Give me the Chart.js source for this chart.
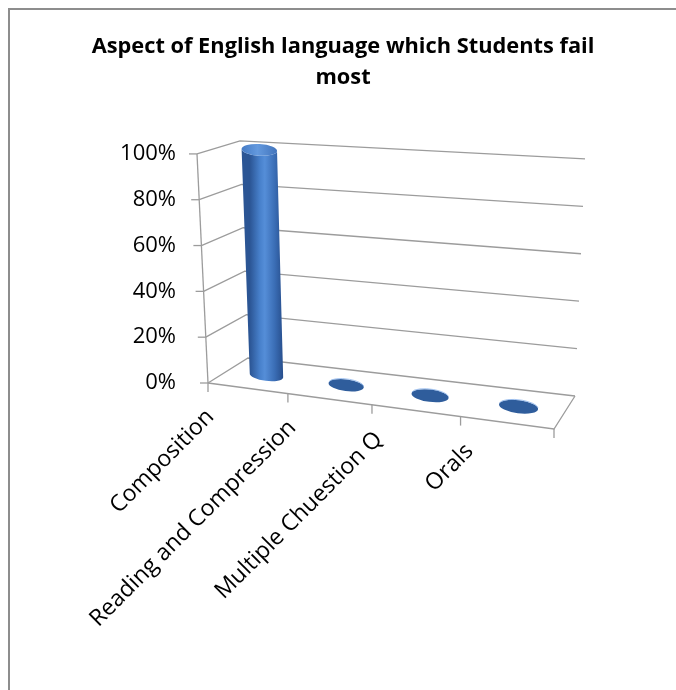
<!DOCTYPE html>
<html>
<head>
<meta charset="utf-8">
<script src="https://cdn.jsdelivr.net/npm/chart.js@4.4.1/dist/chart.umd.min.js"></script>
<style>
  html, body { margin: 0; padding: 0; background: #fff; overflow: hidden; width: 676px; height: 690px; }
  #chart { position: absolute; left: 0; top: 0; }
</style>
</head>
<body>
<canvas id="chart" width="676" height="690"></canvas>
<script>
// --- DATA ---
const categories = ["Composition", "Reading and Compression", "Multiple Chuestion Q", "Orals"];
const failShare = [100, 0, 0, 0];
const yTicks = [0, 20, 40, 60, 80, 100];
const titleLines = ["Aspect of English language which Students fail", "most"];

// --- 3D LOOK ---
// corner offsets of the box from the chart area (front = axis plane, back = wall)
const BOX = {
    f00: [11, 0],  f10: [0, 46],  f01: [0, 0],   f11: [12, 25],
    b00: [51, -25], b10: [21, 13], b01: [43, -13], b11: [31, 5]
};
const PERSPECTIVE = 1.11;
const GRID_COLOR = '#9c9c9c';
const LABEL_FONT = '23px "Open Sans"';

function lerp(a, b, t) {
    return [a[0] + (b[0] - a[0]) * t, a[1] + (b[1] - a[1]) * t];
}

function boxCorners(chart) {
    const a = chart.chartArea;
    const y = chart.scales.y;
    const top = y.getPixelForValue(y.max), bottom = y.getPixelForValue(y.min);
    const pt = (off, right, up) => [(right ? a.right : a.left) + off[0], (up ? top : bottom) + off[1]];
    return {
        top, bottom,
        f00: pt(BOX.f00, false, false), f10: pt(BOX.f10, true, false),
        f01: pt(BOX.f01, false, true),  f11: pt(BOX.f11, true, true),
        b00: pt(BOX.b00, false, false), b10: pt(BOX.b10, true, false),
        b01: pt(BOX.b01, false, true),  b11: pt(BOX.b11, true, true)
    };
}

// u: along categories, v: value fraction, w: depth (0 front, 1 back)
function project(c, u, v, w) {
    const k = u / (PERSPECTIVE + (1 - PERSPECTIVE) * u);
    const front = lerp(lerp(c.f00, c.f10, k), lerp(c.f01, c.f11, k), v);
    const back = lerp(lerp(c.b00, c.b10, k), lerp(c.b01, c.b11, k), v);
    return lerp(front, back, w);
}

function line(ctx, pts) {
    ctx.beginPath();
    ctx.moveTo(pts[0][0], pts[0][1]);
    for (let i = 1; i < pts.length; i++) ctx.lineTo(pts[i][0], pts[i][1]);
    ctx.stroke();
}

function ellipseAt(c, uc, half, v) {
    const a = project(c, uc - half, v, 0.5), b = project(c, uc + half, v, 0.5);
    const rx = Math.hypot(b[0] - a[0], b[1] - a[1]) / 2;
    return {
        a, b, rx, ry: rx * 0.33,
        cx: (a[0] + b[0]) / 2, cy: (a[1] + b[1]) / 2,
        rot: Math.atan2(b[1] - a[1], b[0] - a[0])
    };
}

function drawCylinder(ctx, c, uc, half, vBase, vTop) {
    const bot = ellipseAt(c, uc, half, vBase);
    const top = ellipseAt(c, uc, half, vTop);
    if (vTop - vBase > 0.002) {
        const g = ctx.createLinearGradient(bot.a[0], 0, bot.b[0], 0);
        g.addColorStop(0, '#2b5594');
        g.addColorStop(0.3, '#4780cb');
        g.addColorStop(0.45, '#558ed8');
        g.addColorStop(0.75, '#3a6db5');
        g.addColorStop(1, '#274e8c');
        ctx.fillStyle = g;
        ctx.beginPath();
        ctx.moveTo(top.a[0], top.a[1]);
        ctx.lineTo(bot.a[0], bot.a[1]);
        ctx.ellipse(bot.cx, bot.cy, bot.rx, bot.ry, bot.rot, Math.PI, 0, true);
        ctx.lineTo(top.b[0], top.b[1]);
        ctx.ellipse(top.cx, top.cy, top.rx, top.ry, top.rot, 0, Math.PI, false);
        ctx.closePath();
        ctx.fill();
        const tg = ctx.createLinearGradient(top.a[0], 0, top.b[0], 0);
        tg.addColorStop(0, '#457bc5');
        tg.addColorStop(0.45, '#6399de');
        tg.addColorStop(1, '#4274bc');
        ctx.fillStyle = tg;
        ctx.beginPath();
        ctx.ellipse(top.cx, top.cy, top.rx, top.ry, top.rot, 0, Math.PI * 2);
        ctx.fill();
    } else {
        ctx.fillStyle = '#2f5d9c';
        ctx.beginPath();
        ctx.ellipse(top.cx, top.cy, top.rx, top.ry, top.rot, 0, Math.PI * 2);
        ctx.fill();
        ctx.strokeStyle = 'rgba(140,180,235,0.8)';
        ctx.lineWidth = 1;
        ctx.beginPath();
        ctx.ellipse(top.cx, top.cy - 0.5, top.rx, top.ry, top.rot, Math.PI * 1.05, Math.PI * 1.95);
        ctx.stroke();
    }
}

const box3d = {
    id: 'box3d',
    beforeDraw(chart) {
        // outer frame: only the top and left edges show in the picture
        const ctx = chart.ctx;
        ctx.save();
        ctx.fillStyle = '#8d8d8d';
        ctx.fillRect(8, 8, chart.width - 8, 2);
        ctx.fillRect(8, 8, 2, chart.height - 8);
        ctx.restore();
    },
    beforeDatasetsDraw(chart) {
        const ctx = chart.ctx;
        const c = boxCorners(chart);
        const y = chart.scales.y;
        const frac = val => (c.bottom - y.getPixelForValue(val)) / (c.bottom - c.top);
        ctx.save();
        ctx.strokeStyle = GRID_COLOR;
        ctx.lineWidth = 1.3;
        yTicks.forEach(t => {
            const v = frac(t);
            const p = project(c, 0, v, 0);
            line(ctx, [p, project(c, 0, v, 1), project(c, 1, v, 1)]);
            line(ctx, [[p[0] - 8, p[1]], p]);
        });
        line(ctx, [project(c, 0, 0, 0), project(c, 0, 1, 0)]);
        line(ctx, [project(c, 0, 0, 0), project(c, 1, 0, 0), project(c, 1, 0, 1)]);
        for (let i = 0; i <= categories.length; i++) {
            const p = project(c, i / categories.length, 0, 0);
            line(ctx, [p, [p[0], p[1] + 9]]);
        }
        ctx.restore();
    },
    afterDatasetsDraw(chart) {
        const ctx = chart.ctx;
        const c = boxCorners(chart);
        const a = chart.chartArea;
        const frac = px => (c.bottom - px) / (c.bottom - c.top);
        const span = a.right - a.left;
        ctx.save();
        chart.getDatasetMeta(0).data.forEach(bar => {
            const uc = (bar.x - a.left) / span;
            const half = bar.width / 2 / span;
            drawCylinder(ctx, c, uc, half, frac(bar.base), frac(bar.y));
        });
        // category labels along the sloping front edge
        ctx.fillStyle = '#000';
        ctx.font = LABEL_FONT;
        ctx.textAlign = 'right';
        ctx.textBaseline = 'middle';
        const x = chart.scales.x;
        categories.forEach((label, i) => {
            const u = (x.getPixelForValue(i) - a.left) / span;
            const p = project(c, u, 0, 0);
            ctx.save();
            ctx.translate(p[0] - 37, p[1] + 25);
            ctx.rotate(-Math.PI / 4);
            ctx.fillText(label, 0, 0);
            ctx.restore();
        });
        ctx.restore();
    }
};

new Chart(document.getElementById('chart'), {
    type: 'bar',
    data: {
        labels: categories,
        datasets: [{
            data: failShare,
            backgroundColor: 'rgba(0,0,0,0)',
            borderWidth: 0,
            barPercentage: 0.43,
            categoryPercentage: 1
        }]
    },
    options: {
        responsive: false,
        animation: false,
        layout: { padding: { left: 10, right: 0, top: 0, bottom: 307 } },
        plugins: {
            legend: { display: false },
            tooltip: { enabled: false },
            title: {
                display: true,
                text: titleLines,
                color: '#000',
                font: { family: 'Open Sans', size: 21.8, weight: 'bold', lineHeight: 1.42 },
                padding: { top: 31.5, bottom: 60.5 }
            }
        },
        scales: {
            x: { display: false },
            y: {
                min: 0,
                max: 100,
                afterBuildTicks: s => { s.ticks = yTicks.map(v => ({ value: v })); },
                ticks: {
                    callback: v => v + '%',
                    color: '#000',
                    font: { family: 'Open Sans', size: 22 },
                    padding: 21
                },
                grid: { display: false, drawTicks: false },
                border: { display: false },
                afterFit: s => { s.width = 187; }
            },
            y2: {
                position: 'right',
                ticks: { display: false },
                grid: { display: false, drawTicks: false },
                border: { display: false },
                afterFit: s => { s.width = 122; }
            }
        }
    },
    plugins: [box3d]
});
</script>
</body>
</html>
